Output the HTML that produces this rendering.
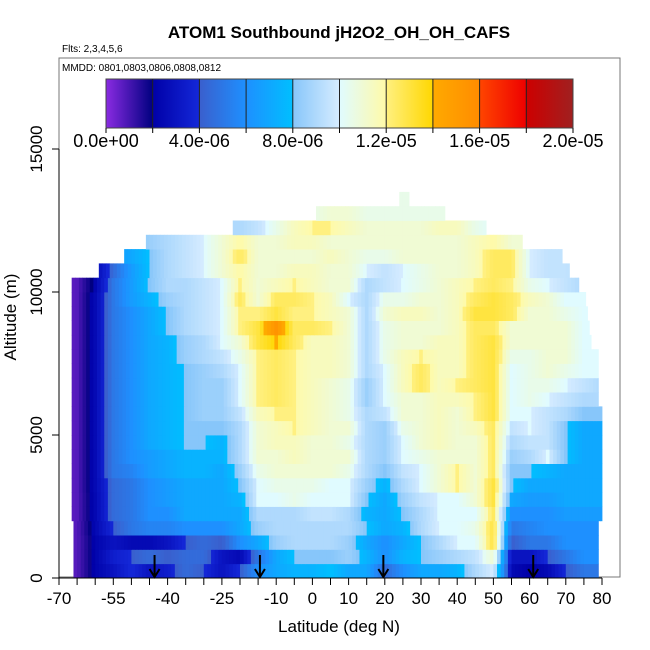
<!DOCTYPE html>
<html><head><meta charset="utf-8">
<style>
html,body{margin:0;padding:0;background:#fff;}
svg{display:block;font-family:"Liberation Sans",sans-serif;}
</style></head>
<body>
<svg id="chart" width="650" height="650" viewBox="0 0 650 650" xmlns="http://www.w3.org/2000/svg">
<defs>
<linearGradient id="cb" x1="0" x2="1" y1="0" y2="0">
<stop offset="0" stop-color="#8a2be2"/><stop offset="0.1" stop-color="#000080"/>
<stop offset="0.1" stop-color="#0000a8"/><stop offset="0.2" stop-color="#1428d8"/>
<stop offset="0.2" stop-color="#3a5fcd"/><stop offset="0.3" stop-color="#1e90ff"/>
<stop offset="0.3" stop-color="#1e90ff"/><stop offset="0.4" stop-color="#00bfff"/>
<stop offset="0.4" stop-color="#87c6fa"/><stop offset="0.5" stop-color="#d6ecff"/>
<stop offset="0.5" stop-color="#e0fbff"/><stop offset="0.6" stop-color="#fffaa8"/>
<stop offset="0.6" stop-color="#fff080"/><stop offset="0.7" stop-color="#ffd700"/>
<stop offset="0.7" stop-color="#ffaa00"/><stop offset="0.8" stop-color="#ff8c00"/>
<stop offset="0.8" stop-color="#ff4500"/><stop offset="0.9" stop-color="#ee0000"/>
<stop offset="0.9" stop-color="#cd0000"/><stop offset="1" stop-color="#a02020"/>
</linearGradient>
</defs>
<text x="339" y="38" text-anchor="middle" font-size="17" font-weight="bold">ATOM1 Southbound jH2O2_OH_OH_CAFS</text>
<text x="62" y="52" font-size="10">Flts: 2,3,4,5,6</text>
<rect x="59" y="58" width="561" height="519" fill="none" stroke="#777" stroke-width="1"/>
<text x="62" y="71" font-size="10">MMDD: 0801,0803,0806,0808,0812</text>
<g id="cells"></g>
<g id="colorbar">
<rect x="106" y="79" width="467" height="49" fill="url(#cb)" stroke="#444" stroke-width="1"/>
</g>
<g id="axes"></g>
<text x="339" y="632" text-anchor="middle" font-size="17">Latitude (deg N)</text>
<text transform="translate(16,317) rotate(-90)" text-anchor="middle" font-size="17">Altitude (m)</text>
</svg>
<script>
const lats = [-70,-65,-60,-55,-50,-45,-40,-35,-30,-25,-20,-15,-10,-5,0,5,10,15,20,25,30,35,40,45,50,55,60,65,70,75,80];
const altBinSize = 500;
const rowExtents = [[-66,79],[-66,79],[-66,79],[-66,79],[-66.5,80],[-66.5,80],[-66.5,80],[-66.5,80],[-66.5,80],[-66.5,80],[-66.5,80],[-66.5,80],[-66.5,79],[-66.5,79],[-66.5,79],[-66.5,79],[-66.5,77],[-66.5,76.5],[-66.5,76],[-66.5,75.5],[-66.5,73.6],[-59,71],[-52,69],[-46,58],[-22,48],[1,36.6],[24,26.7]];
const values = [
[0.5,0.8,2.2,3,4,3,3.5,4.5,4,3,4,6,7,7.5,7.5,8,7,7,4.5,6,7,7,7.5,9,10,2.5,2,2.5,4,5,5],
[0.5,0.8,2.2,3.5,4,4.5,4,4.5,4.5,3,2.5,5,7,8,8,8,8.5,7.5,6,7.5,8,8.5,9,9.5,11,3,3,4,5,6,6],
[0.5,0.8,2.2,3,2.5,2.5,3,4,4.5,4,6,7,8.5,9,9,9,8.5,7,6,7,8,9,10,10,13,4,5,5,6,6,6],
[0.5,0.8,2.4,4,5,5.5,5.5,6,6,6,7,8.5,9,9,9,9,9,8,7,7.5,9,10,10,10.5,13,5,5.5,6,6,6,6],
[0.5,0.8,2.4,4.5,5,6,6,7,7,7,7,9,9,9,9.5,9.5,9,7.5,7,8,9,10,10,10,12.5,6,6,6,6.5,6.5,6.5],
[0.5,0.8,2.4,4.5,5,6,6.5,7,7,7,7.5,10,10,10.5,10,10,10,8,7,8.5,9.5,10,10,11,13,7,6.5,6.5,7,7,7],
[0.5,0.8,2.5,4.5,5,6,6.5,7,7,7,8,10,10.5,10.5,10.5,10,10,8.5,7.5,9,10,11,12,11,13,8,7,7,7,7,7],
[0.5,0.8,2.5,5,5.5,6.5,7,7.5,7.5,7,8.5,10.5,11,11,11,11,10.5,9,8,9.5,10,11,12,11,12.5,8,8,7.5,7,7,7],
[0.5,0.8,2.5,5,6,6.5,7,7.5,7.5,7.5,9,11,11,11.5,11,11,11,9,8.5,10,10.5,11,11,11,12.5,8.5,9,10,8,7,7],
[0.5,0.8,2.5,5,6,7,7.5,8,8,7.5,9,11,11.5,11.5,11,11,10.5,9,8.5,10,11,11.5,11,11,12.5,9,9.5,9.5,8,7,7],
[0.5,0.8,2.5,5,6,7,7.5,8,8,8,9,11,11.5,12,11.5,11,11,9,8.5,10.5,11,11.5,11,11.5,12.5,9.5,10,9.5,8,7,7],
[0.5,0.8,2.5,5,6,7,7.5,8,8.5,8.5,9.5,11.5,12,12,11.5,11,10.5,9,9.5,11,11,11.5,11,12,13,10,10,9.5,9,8,8],
[0.5,0.8,2.5,5,6,7,7.5,8,8.5,8.5,10,12,12.5,12,11.5,11,10.5,8.5,10,11,11,11.5,11.5,12,13,10,10.5,10,9.5,9,9],
[0.5,0.8,2.5,5,6,7,7.5,8,8.5,8.5,10,12,12.5,12,11.5,11,10.5,8.5,10,11.5,12.5,11.5,12,12.5,13,10,10.5,10.5,10,9.5,9],
[0.5,0.8,2.5,5,6,7,7.5,8,8.5,9,10,12,12.5,12,11.5,11.5,11,9,10,11.5,12.5,11.5,11.5,12.5,13,10,10.5,11,10.5,10,10],
[0.5,0.8,2.5,5,6,7,7.5,8.5,9,9.5,10.5,12,12.5,12,11.5,11.5,11,9,10.5,11.5,12,11.5,11.5,12.5,13,10.5,10.5,11,11,10,10],
[0.5,0.8,2.5,5,6,7,7.5,8.5,9,10,11,13,14,12.5,11.5,11.5,11,9,10.5,11,11,11.5,11.5,12.5,13,11,11,11,11,10,10],
[0.5,0.8,2.5,5,6,7,8,9,9.5,10,12,13,15.5,12.5,12.5,12,11,9,10.5,11,11,11,11.5,12.5,12.5,11,11,11,11,10,10],
[0.5,0.8,2.5,5,6,7,8,9,9.5,10,12,12,13,12,12,11.5,11,9,11,11.5,11.5,11,11.5,13,13,12.5,11,11,10.5,10,10],
[0.5,0.8,2.5,5,6.5,7.5,8.5,9,9.5,10,12.5,11,12.5,12.5,12,11.5,10,9,10.5,10.5,11,11,11.5,12.5,13,12.5,11.5,11,10,10,10],
[0.5,0.8,2.3,5,6.5,8,9,9,9.5,10,12,11,11.5,12,11.5,11,11,9,9.5,10,10.5,11,11.5,12,12.5,12,10.5,10,9.5,9,9],
[2,2,2.5,4.5,6.5,8,9,9.5,10,11,12,11,11,11.5,11.5,11,11,10,9.5,10,10.5,11,11,11.5,12.5,12.5,10,9.5,9.5,9,9],
[6,6,6,6.5,7,8,9,9.5,10,11,12.5,11,11,11,11,11.5,11,10.5,10.5,11,11,11,11,11.5,12.5,12.5,10,9.5,9.5,9.5,9.5],
[8,8,8,8,8,8.5,9,9.5,10,11,12,11,11,11.5,11.5,11,11,11,11,11,11,11,11,11.5,12,11,11,11,11,11,11],
[9,9,9,9,9,9,9,9,9,9,9,9.5,10.5,11.5,12,12,11.5,11,11,11,11,11.5,11.5,10.5,10,10,10,10,10,10,10],
[10.5,10.5,10.5,10.5,10.5,10.5,10.5,10.5,10.5,10.5,10.5,10.5,10.5,10.5,10.5,11,11,10.5,10.5,10.5,10.5,10.5,10.5,10.5,10.5,10.5,10.5,10.5,10.5,10.5,10.5],
[10.5,10.5,10.5,10.5,10.5,10.5,10.5,10.5,10.5,10.5,10.5,10.5,10.5,10.5,10.5,10.5,10.5,10.5,10.5,10.5,10.5,10.5,10.5,10.5,10.5,10.5,10.5,10.5,10.5,10.5,10.5]
];
const arrowLats = [-43.6,-14.5,19.6,61];
const xTickLabels = [-70,-55,-40,-25,-10,0,10,20,30,40,50,60,70,80];
const yTickLabels = [0,5000,10000,15000];
const cbLabels = ["0.0e+00","4.0e-06","8.0e-06","1.2e-05","1.6e-05","2.0e-05"];

const NS="http://www.w3.org/2000/svg";
function xS(lat){return 59+(lat+70)*3.62;}
function yS(alt){return 578-alt*0.0286;}
const segs=[["#8a2be2","#000080"],["#0000a8","#1428d8"],["#3a5fcd","#1e90ff"],["#1e90ff","#00bfff"],["#87c6fa","#d6ecff"],["#e0fbff","#fffaa8"],["#fff080","#ffd700"],["#ffaa00","#ff8c00"],["#ff4500","#ee0000"],["#cd0000","#a02020"]];
function hx(c){return [1,3,5].map(i=>parseInt(c.substr(i,2),16));}
function color(v){v=Math.max(0,Math.min(19.999,v));const s=Math.floor(v/2),t=(v-s*2)/2;const a=hx(segs[s][0]),b=hx(segs[s][1]);return "rgb("+a.map((q,i)=>Math.round(q+(b[i]-q)*t)).join(",")+")";}
function valAt(row,lat){const f=(lat-lats[0])/5;let i=Math.floor(f);if(i<0)return row[0];if(i>=lats.length-1)return row[lats.length-1];const t=f-i;return row[i]*(1-t)+row[i+1]*t;}
function mk(tag,attrs,parent){const e=document.createElementNS(NS,tag);for(const k in attrs)e.setAttribute(k,attrs[k]);parent.appendChild(e);return e;}
const cells=document.getElementById('cells');
values.forEach((row,r)=>{
  const [a,b]=rowExtents[r];
  const y0=yS((r+1)*altBinSize),y1=yS(r*altBinSize);
  for(let lat=a;lat<b;lat+=1){
    const l2=Math.min(lat+1,b);
    const el=mk('rect',{x:xS(lat),y:y0,width:xS(l2)-xS(lat)+0.4,height:y1-y0+0.4,fill:color(valAt(row,lat+0.5))},cells);
    
    
  }
});
const axes=document.getElementById('axes');
const xl=mk('line',{x1:xS(-70),x2:xS(80),y1:578,y2:578,stroke:'#000'},axes);


for(let lat=-70;lat<=80;lat+=5){const t=mk('line',{x1:xS(lat),x2:xS(lat),y1:578,y2:585,stroke:'#000'},axes);

}
xTickLabels.forEach(v=>{const t=mk('text',{x:xS(v),y:604,'text-anchor':'middle','font-size':17},axes);t.textContent=v;

});
const yl=mk('line',{x1:59,x2:59,y1:yS(0),y2:yS(15000),stroke:'#000'},axes);


yTickLabels.forEach(v=>{const t=mk('line',{x1:52,x2:59,y1:yS(v),y2:yS(v),stroke:'#000'},axes);


const l=mk('text',{transform:'translate(42,'+yS(v)+') rotate(-90)','text-anchor':'middle','font-size':17},axes);l.textContent=v;

});
arrowLats.forEach(lat=>{const x=xS(lat);const g=mk('g',{},axes);


mk('line',{x1:x,x2:x,y1:555,y2:576,stroke:'#000','stroke-width':2},g);
mk('polyline',{points:(x-5)+',569 '+x+',577 '+(x+5)+',569',fill:'none',stroke:'#000','stroke-width':2},g);});
const cb=document.getElementById('colorbar');
for(let i=1;i<10;i++){const x=106+i*46.7;const d=mk('line',{x1:x,x2:x,y1:79,y2:128,stroke:'#222','stroke-width':1},cb);

}
for(let i=0;i<=10;i++){const x=106+i*46.7;const d=mk('line',{x1:x,x2:x,y1:128,y2:133,stroke:'#000'},cb);

}
cbLabels.forEach((s,i)=>{const t=mk('text',{x:106+i*93.4,y:147,'text-anchor':'middle','font-size':18},cb);t.textContent=s;

});
</script>
</body></html>
